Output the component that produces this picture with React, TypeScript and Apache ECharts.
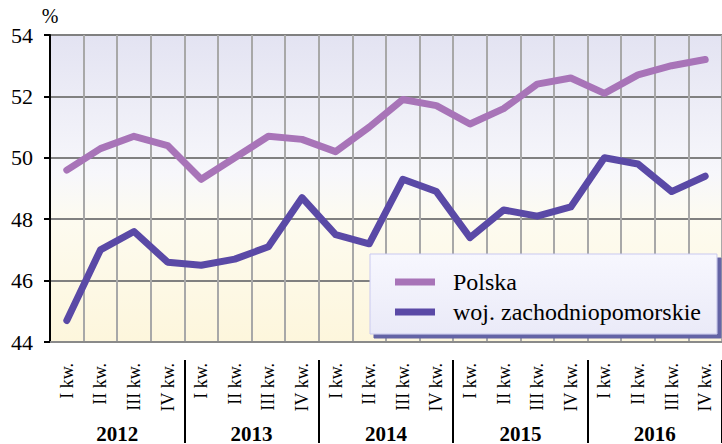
import React, { useEffect, useRef } from "react";
import * as echarts from "echarts";

const quarters = ["I kw.", "II kw.", "III kw.", "IV kw."];
const years = ["2012", "2013", "2014", "2015", "2016"];
const categories: string[] = years.flatMap((y) => quarters.map((q) => `${q}|${y}`));

const polska = [49.6, 50.3, 50.7, 50.4, 49.3, 50.0, 50.7, 50.6, 50.2, 51.0, 51.9, 51.7, 51.1, 51.6, 52.4, 52.6, 52.1, 52.7, 53.0, 53.2];
const zachodniopomorskie = [44.7, 47.0, 47.6, 46.6, 46.5, 46.7, 47.1, 48.7, 47.5, 47.2, 49.3, 48.9, 47.4, 48.3, 48.1, 48.4, 50.0, 49.8, 48.9, 49.4];

const seriesNames = ["Polska", "woj. zachodniopomorskie"];
const FONT = "Liberation Serif";

export default function App() {
  const ref = useRef<HTMLDivElement>(null);
  useEffect(() => {
    document.body.style.margin = "0";
    if (!ref.current) return;
    const chart = echarts.init(ref.current, null, { renderer: "svg" });
    chart.setOption({
      animation: false,
      textStyle: { fontFamily: FONT },
      grid: {
        left: 50,
        right: -5,
        top: 35,
        bottom: 101,
        show: true,
        borderWidth: 0,
        backgroundColor: {
          type: "linear",
          x: 0, y: 0, x2: 0, y2: 1,
          colorStops: [
            { offset: 0, color: "#e3e3f2" },
            { offset: 0.45, color: "#f7f7fb" },
            { offset: 0.6, color: "#fdfbf0" },
            { offset: 1, color: "#fdf6dc" },
          ],
        },
      },
      legend: {
        data: seriesNames,
        orient: "vertical",
        left: 370,
        top: 254,
        padding: [16, 16, 10, 25],
        itemWidth: 40,
        itemHeight: 7,
        itemGap: 6,
        icon: "rect",
        backgroundColor: {
          type: "linear",
          x: 0, y: 0, x2: 0, y2: 1,
          colorStops: [
            { offset: 0, color: "#f7f7fe" },
            { offset: 1, color: "#eaeaf8" },
          ],
        },
        borderColor: "#c9c9ef",
        borderWidth: 1,
        shadowColor: "rgba(100,100,165,1)",
        shadowBlur: 1,
        shadowOffsetX: 4,
        shadowOffsetY: 4,
        textStyle: {
          fontFamily: FONT,
          fontSize: 24,
          color: "#000",
          lineHeight: 24,
          padding: [0, 0, 0, 13],
        },
      },
      xAxis: [
        {
          type: "category",
          data: categories,
          boundaryGap: true,
          axisLine: { show: true, lineStyle: { color: "#8a8a8a", width: 2 } },
          axisTick: { show: false },
          splitLine: { show: true, interval: 0, lineStyle: { color: "#a8a8a8", width: 2 } },
          axisLabel: {
            interval: 0,
            rotate: 90,
            margin: 21,
            fontFamily: FONT,
            fontSize: 18,
            color: "#000",
            formatter: (v: string) => v.split("|")[0],
          },
        },
        {
          type: "category",
          data: categories,
          boundaryGap: true,
          position: "bottom",
          offset: 18,
          axisLine: { show: false },
          axisLabel: { show: false },
          splitLine: { show: false },
          axisTick: {
            show: true,
            length: 83,
            interval: (i: number) => i % 4 === 0 && i !== 0,
            lineStyle: { color: "#000", width: 2 },
          },
        },
        {
          type: "category",
          data: years,
          boundaryGap: true,
          position: "bottom",
          offset: 76,
          axisLine: { show: false },
          axisTick: { show: false },
          splitLine: { show: false },
          axisLabel: {
            margin: 5,
            fontFamily: FONT,
            fontSize: 21,
            fontWeight: "bold",
            color: "#000",
          },
        },
      ],
      yAxis: {
        type: "value",
        min: 44,
        max: 54,
        interval: 2,
        name: "%",
        nameLocation: "end",
        nameGap: 9,
        nameTextStyle: { fontFamily: FONT, fontSize: 20, color: "#000", align: "center" },
        axisLine: { show: true, lineStyle: { color: "#000", width: 2 } },
        axisTick: { show: true, length: 6, lineStyle: { color: "#000", width: 2 } },
        splitLine: { show: true, lineStyle: { color: "#808080", width: 2 } },
        axisLabel: { margin: 17, fontFamily: FONT, fontSize: 22, color: "#000" },
      },
      series: [
        {
          name: seriesNames[0],
          type: "line",
          data: polska,
          symbol: "none",
          lineStyle: { color: "#a874b8", width: 7, cap: "round", join: "round" },
          itemStyle: { color: "#a874b8" },
          z: 3,
        },
        {
          name: seriesNames[1],
          type: "line",
          data: zachodniopomorskie,
          symbol: "none",
          lineStyle: { color: "#5a49a6", width: 7, cap: "round", join: "round" },
          itemStyle: { color: "#5a49a6" },
          z: 3,
        },
      ],
    });
    return () => chart.dispose();
  }, []);
  return <div ref={ref} style={{ width: 722, height: 444 }} />;
}
